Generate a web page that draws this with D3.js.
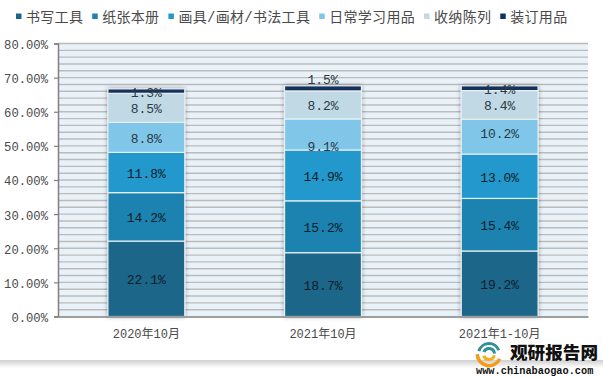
<!DOCTYPE html>
<html>
<head>
<meta charset="utf-8">
<script src="https://cdn.jsdelivr.net/npm/d3@7"></script>
<style>
  html, body { margin: 0; padding: 0; background: #fff; }
  svg { display: block; }
  text { font-family: "Liberation Mono", "Noto Sans CJK SC", monospace; fill: #4a4a4a; }
</style>
</head>
<body>
<svg id="chart"></svg>
<script>
const width = 603, height = 378;

// values
const categories = ['2020年10月', '2021年10月', '2021年1-10月'];
const seriesNames = ['书写工具', '纸张本册', '画具/画材/书法工具', '日常学习用品', '收纳陈列', '装订用品'];
const writing = [22.1, 18.7, 19.2];
const paper = [14.2, 15.2, 15.4];
const art = [11.8, 14.9, 13.0];
const study = [8.8, 9.1, 10.2];
const storage = [8.5, 8.2, 8.4];
const binding = [1.3, 1.5, 1.4];
const yTicks = [0, 10, 20, 30, 40, 50, 60, 70, 80];
const gridStep = [2, 4, 6, 8, 10, 12, 14, 16, 18, 20, 22, 24, 26, 28, 30, 32, 34, 36, 38, 40, 42, 44, 46, 48, 50, 52, 54, 56, 58, 60, 62, 64, 66, 68, 70, 72, 74, 76, 78, 80];

const colors = ['#1a668a', '#1f82b0', '#2298cc', '#7fc6e8', '#c1d9e4', '#12305c'];

// some labels sit off the segment centre in the original
const labelNudge = { '5-1': -10, '3-1': 11, '3-2': -4 };

const margin = { top: 43.5, right: 15, bottom: 61.5, left: 58 };
const plotW = width - margin.left - margin.right;
const plotH = height - margin.top - margin.bottom;

const svg = d3.select('#chart').attr('width', width).attr('height', height);

const defs = svg.append('defs');
const shadow = defs.append('filter').attr('id', 'barShadow')
  .attr('x', '-20%').attr('y', '-5%').attr('width', '140%').attr('height', '110%');
shadow.append('feDropShadow')
  .attr('dx', 0).attr('dy', 0).attr('stdDeviation', 2)
  .attr('flood-color', '#000').attr('flood-opacity', 0.35);

const fade = defs.append('linearGradient').attr('id', 'bottomFade')
  .attr('x1', 0).attr('x2', 0).attr('y1', 0).attr('y2', 1);
fade.append('stop').attr('offset', 0).attr('stop-color', '#cfcfcf');
fade.append('stop').attr('offset', 1).attr('stop-color', '#ffffff');

// grey band along the bottom of the picture
svg.append('rect')
  .attr('x', 0).attr('y', 360).attr('width', width).attr('height', 8)
  .attr('fill', 'url(#bottomFade)');

const x = d3.scaleBand().domain(categories).range([margin.left, margin.left + plotW]).paddingInner(0.565).paddingOuter(0.2825);
const y = d3.scaleLinear().domain([0, 80]).range([margin.top + plotH, margin.top]);

svg.append('rect')
  .attr('x', margin.left).attr('y', margin.top)
  .attr('width', plotW).attr('height', plotH)
  .attr('fill', '#eaf2f9');

svg.append('g').selectAll('line')
  .data(gridStep)
  .enter()
  .append('line')
  .attr('x1', margin.left).attr('x2', margin.left + plotW)
  .attr('y1', d => y(d)).attr('y2', d => y(d))
  .attr('stroke', '#bdbbb9').attr('stroke-width', 1.4);

// stacked bars
const rows = categories.map((c, i) => ({
  cat: c, s0: writing[i], s1: paper[i], s2: art[i], s3: study[i], s4: storage[i], s5: binding[i]
}));
const keys = ['s0', 's1', 's2', 's3', 's4', 's5'];
const stacked = d3.stack().keys(keys)(rows);

const barGroups = svg.append('g').selectAll('g')
  .data(categories)
  .enter()
  .append('g')
  .attr('filter', 'url(#barShadow)');

barGroups.each(function (cat, i) {
  d3.select(this).selectAll('rect')
    .data(stacked.map((layer, k) => ({ k, d: layer[i] })))
    .enter()
    .append('rect')
    .attr('x', x(cat))
    .attr('width', x.bandwidth())
    .attr('y', d => y(d.d[1]))
    .attr('height', d => y(d.d[0]) - y(d.d[1]))
    .attr('fill', d => colors[d.k])
    .attr('stroke', '#e6eff4')
    .attr('stroke-width', 1.2);
});

// axes
const yAxis = d3.axisLeft(y).tickValues(yTicks).tickSize(4).tickFormat(d => d.toFixed(2) + '%');
const gy = svg.append('g').attr('transform', `translate(${margin.left},0)`).call(yAxis);
gy.select('.domain').attr('stroke', '#808080').attr('stroke-width', 1.5);
gy.selectAll('.tick line').attr('stroke', '#808080').attr('stroke-width', 1.2);
gy.selectAll('.tick text').attr('x', -10).attr('y', 1).attr('font-size', 12.2).attr('font-family', '"Liberation Mono"');

const xAxis = d3.axisBottom(x).tickSize(0);
const gx = svg.append('g').attr('transform', `translate(0,${margin.top + plotH})`).call(xAxis);
gx.select('.domain').attr('stroke', '#808080').attr('stroke-width', 1.5);
gx.selectAll('.tick text').attr('y', 12.5).attr('dy', '0.71em').attr('font-size', 12).attr('font-family', '"Liberation Mono", "Noto Sans CJK SC"');

// data labels
stacked.forEach((layer, k) => {
  svg.append('g').selectAll('text')
    .data(layer)
    .enter()
    .append('text')
    .attr('x', d => x(d.data.cat) + x.bandwidth() / 2)
    .attr('y', (d, i) => y((d[0] + d[1]) / 2) + 1 + (labelNudge[k + '-' + i] || 0))
    .attr('dy', '0.35em')
    .attr('text-anchor', 'middle')
    .attr('font-size', 13)
    .style('fill', k < 3 ? '#0f1d28' : '#2a3a46')
    .text(d => (d[1] - d[0]).toFixed(1) + '%');
});

// legend, laid out left to right
let legendX = 16;
const legend = svg.append('g');
seriesNames.forEach((name, i) => {
  legend.append('rect')
    .attr('x', legendX).attr('y', 13.5)
    .attr('width', 5.5).attr('height', 5.5)
    .attr('fill', colors[i]);
  const t = legend.append('text')
    .attr('x', legendX + 10).attr('y', 21.5)
    .attr('font-size', 14)
    .attr('letter-spacing', 0.3)
    .attr('font-family', '"Noto Sans CJK SC"')
    .text(name);
  legendX += 10 + t.node().getComputedTextLength() + 9;
});

// watermark logo
const logo = svg.append('g').attr('transform', 'translate(489,354)');
const swoosh = d3.arc();
logo.append('path')
  .attr('d', swoosh({ innerRadius: 10, outerRadius: 13.5, startAngle: 2.0, endAngle: 4.7 }))
  .attr('fill', '#f59a1b');
logo.append('path')
  .attr('d', swoosh({ innerRadius: 4, outerRadius: 7, startAngle: 1.8, endAngle: 4.4 }))
  .attr('fill', '#f5b01b');
logo.append('path')
  .attr('d', swoosh({ innerRadius: 9, outerRadius: 12, startAngle: -1.3, endAngle: 1.2 }))
  .attr('fill', '#2f8f9b');
logo.append('path')
  .attr('d', swoosh({ innerRadius: 4, outerRadius: 7, startAngle: -1.2, endAngle: 1.5 }))
  .attr('fill', '#2f8f9b');

svg.append('text')
  .attr('x', 510).attr('y', 358.5)
  .attr('font-size', 17.6)
  .attr('font-weight', 900)
  .attr('font-family', '"Noto Sans CJK SC"')
  .style('fill', '#111')
  .text('观研报告网');

svg.append('text')
  .attr('x', 476).attr('y', 373.5)
  .attr('font-size', 10.3)
  .attr('font-weight', 700)
  .attr('font-family', '"DejaVu Sans"')
  .style('fill', '#111')
  .text('www.chinabaogao.com');
</script>
</body>
</html>
